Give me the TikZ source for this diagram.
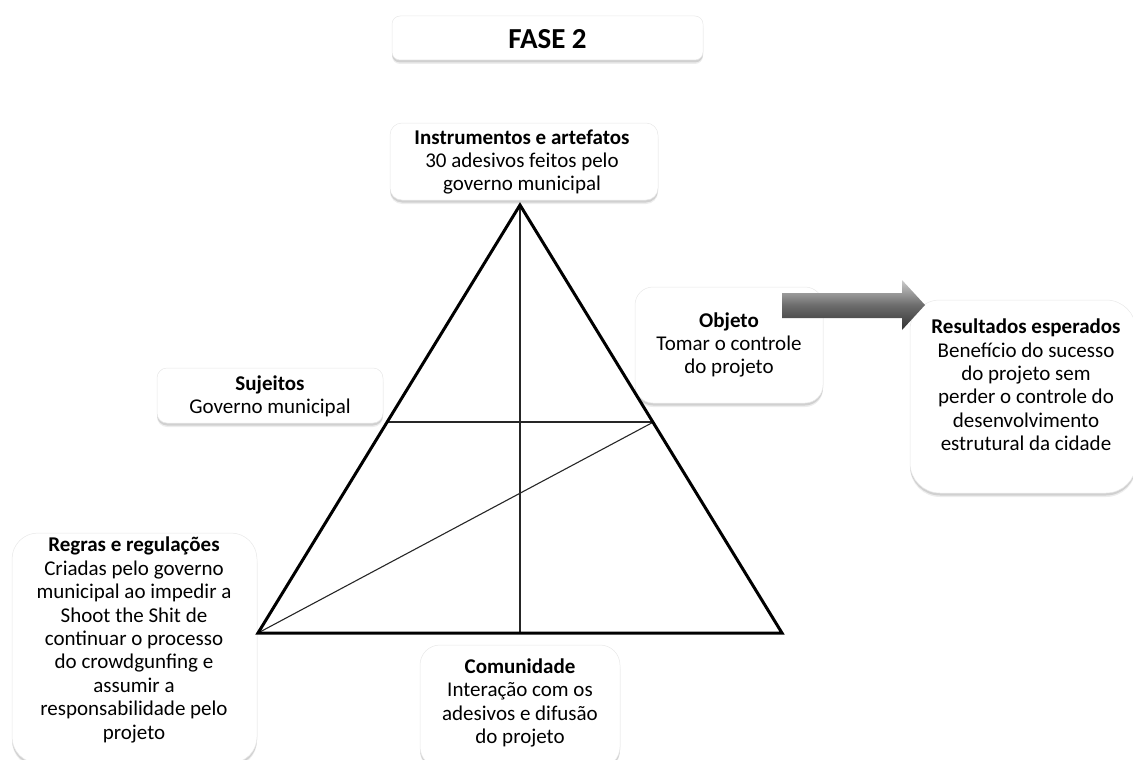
\documentclass[tikz,border=0pt]{standalone}
\usepackage{fontspec}
\setmainfont{Carlito}
\usetikzlibrary{shadows}
\begin{document}
\begin{tikzpicture}[x=1pt,y=-1pt,
  box/.style={draw=gray!18, line width=0.5pt, fill=white, inner sep=0pt,
    drop shadow={shadow xshift=0pt, shadow yshift=-4pt, fill=black, opacity=0.07},
    drop shadow={shadow xshift=0pt, shadow yshift=-2.5pt, fill=black, opacity=0.12}},
  txt/.style={align=center, inner sep=0pt, font=\fontsize{21}{23.4}\selectfont},
  tri/.style={line width=3pt, line join=miter},
  inner/.style={line width=1.1pt, black!85}]
\useasboundingbox (0,0) rectangle (1133,760);
% boxes
\node[box, rounded corners=8pt, minimum width=311pt, minimum height=44pt] (titlebox) at (547.5,38) {};
\node[font=\fontsize{29}{30}\selectfont\bfseries, inner sep=0pt] (title) at (547.5,39) {FASE 2};

\node[box, rounded corners=12pt, minimum width=268pt, minimum height=77pt] (instbox) at (524,161.5) {};
\node[txt] (inst) at (522,162) {\textbf{Instrumentos e artefatos}\\30 adesivos feitos pelo\\governo municipal};

\node[box, rounded corners=18pt, minimum width=188pt, minimum height=116pt] (objbox) at (729,345) {};
\node[txt] (obj) at (729,345) {\textbf{Objeto}\\Tomar o controle\\do projeto};

\node[box, rounded corners=30pt, minimum width=226pt, minimum height=193pt] (resbox) at (1023,396.5) {};
\node[txt] (res) at (1026,385) {\textbf{Resultados esperados}\\Benefício do sucesso\\do projeto sem\\perder o controle do\\desenvolvimento\\estrutural da cidade};

\node[box, rounded corners=10pt, minimum width=226pt, minimum height=55pt] (sujbox) at (270,395.5) {};
\node[txt] (suj) at (270,396.5) {\textbf{Sujeitos}\\Governo municipal};

\node[box, rounded corners=26pt, minimum width=245pt, minimum height=230pt] (regbox) at (134.5,648) {};
\node[txt] (reg) at (134,640) {\textbf{Regras e regulações}\\Criadas pelo governo\\municipal ao impedir a\\Shoot the Shit de\\continuar o processo\\do crowdgunfing e\\assumir a\\responsabilidade pelo\\projeto};

\node[box, rounded corners=20pt, minimum width=200pt, minimum height=122pt] (combox) at (520,706) {};
\node[txt] (com) at (520,703) {\textbf{Comunidade}\\Interação com os\\adesivos e difusão\\do projeto};

% triangle
\coordinate (A) at (520,205);
\coordinate (B) at (258,633);
\coordinate (C) at (782,633);
\coordinate (M) at (520,633);
\coordinate (L) at (387,422);
\coordinate (R) at (653.5,422);
\draw[inner] (A) -- (M);
\draw[inner] (L) -- (R);
\draw[inner] (B) -- (R);
\draw[tri] (A) -- (B) -- (C) -- cycle;

% block arrow
\shade[top color=gray!40, bottom color=black!80, middle color=gray!85!black]
  (782,293) -- (902,293) -- (902,280) -- (925,305) -- (902,330) -- (902,318) -- (782,318) -- cycle;
\end{tikzpicture}
\end{document}
